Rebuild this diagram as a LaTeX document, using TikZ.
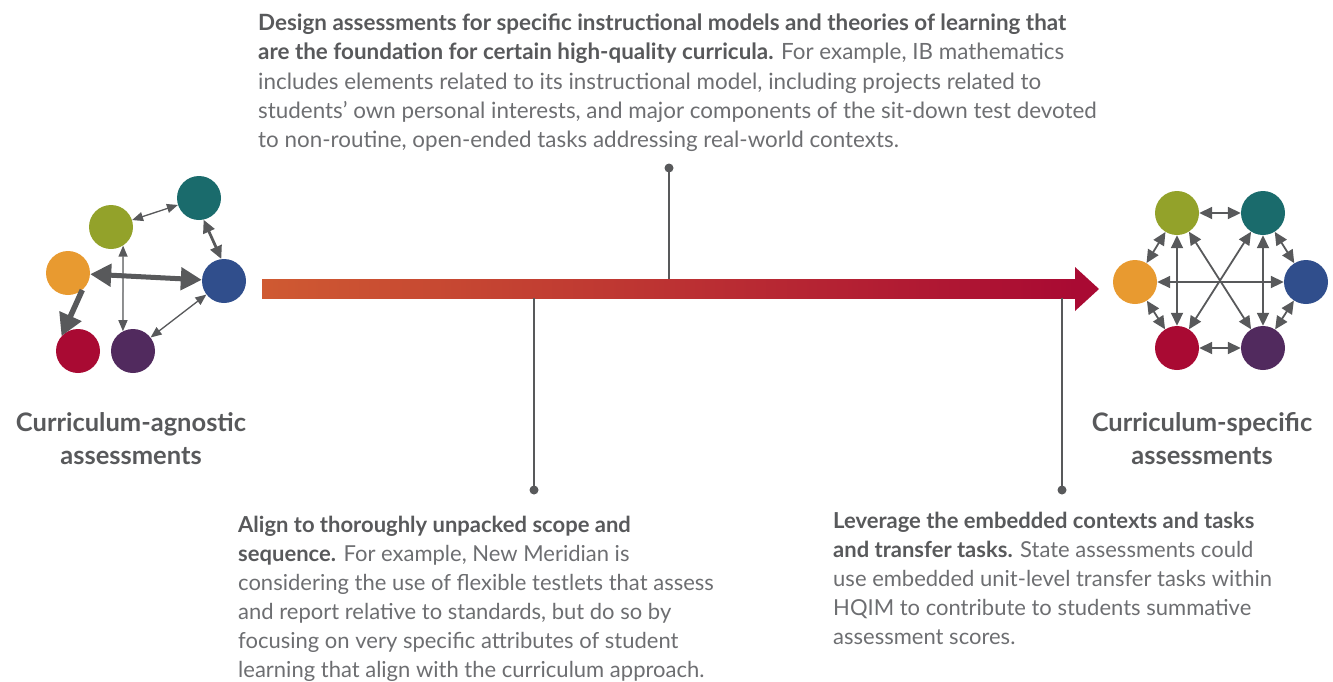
\documentclass[tikz,border=0pt]{standalone}
\usepackage{fontspec}
\setmainfont{Lato}
\usetikzlibrary{arrows.meta}
\definecolor{cOlive}{HTML}{93A22A}
\definecolor{cTeal}{HTML}{1A6B6C}
\definecolor{cOrange}{HTML}{E89A30}
\definecolor{cBlue}{HTML}{304E8C}
\definecolor{cRed}{HTML}{A90A33}
\definecolor{cPurple}{HTML}{512A5E}
\definecolor{cGray}{HTML}{58595B}
\definecolor{cText}{HTML}{58595B}
\definecolor{cLight}{HTML}{6D6E71}
\definecolor{cBarL}{HTML}{CF5A32}
\definecolor{cBarR}{HTML}{A90A33}
\tikzset{
  bub/.style={circle,minimum size=44pt,inner sep=0pt,fill=#1},
  thinarr/.style={draw=cGray,fill=cGray,line width=1.3pt,{Triangle[length=11pt,width=9pt]}-{Triangle[length=11pt,width=9pt]}},
  midarr/.style={draw=cGray,fill=cGray,line width=2.8pt,{Triangle[length=13pt,width=12pt]}-{Triangle[length=13pt,width=12pt]}},
  thickarr/.style={draw=cGray,fill=cGray,line width=5pt,{Triangle[length=21pt,width=22pt]}-{Triangle[length=21pt,width=22pt]}},
  rarr/.style={draw=cGray,fill=cGray,line width=1.8pt,{Triangle[length=13pt,width=12pt]}-{Triangle[length=13pt,width=12pt]}},
  stem/.style={draw=cGray,line width=2.4pt},
  pin/.style={circle,fill=cGray,minimum size=9pt,inner sep=0pt},
  para/.style={anchor=north west,inner sep=0pt,align=left,text=cLight,font=\fontsize{22}{29}\selectfont},
  lab/.style={align=center,text=cText,font=\bfseries\fontsize{25.5}{33}\selectfont},
}
\newcommand{\hb}[1]{{\bfseries\color{cText}#1}}
\begin{document}
\begin{tikzpicture}[x=1pt,y=-1pt]
\useasboundingbox (0,0) rectangle (1333,681);
% ---- gradient bar ----
\shade[left color=cBarL,right color=cBarR] (262,279) rectangle (1076,298);
\fill[cBarR] (1075,267) -- (1099,289) -- (1075,311) -- cycle;
\coordinate (barA) at (669,279);
\coordinate (barB) at (534,298);
\coordinate (barC) at (1062,298);
% ---- pins ----
\node[pin] (pA) at (669,168) {};
\node[pin] (pB) at (534,490) {};
\node[pin] (pC) at (1062,490) {};
\draw[stem] (pA.center) -- (barA);
\draw[stem] (pB.center) -- (barB);
\draw[stem] (pC.center) -- (barC);
% ---- left cluster ----
\node[bub=cTeal] (lt) at (199,198) {};
\node[bub=cOlive] (lo) at (111,227) {};
\node[bub=cOrange] (lr) at (68,273) {};
\node[bub=cBlue] (lb) at (224,281) {};
\node[bub=cRed] (lre) at (78,351) {};
\node[bub=cPurple] (lp) at (133,351) {};
\draw[thinarr] (lo) -- (lt);
\draw[midarr] (lt.-78) -- (lb.97);
\draw[thickarr] (lr) -- (lb);
\draw[thinarr] (lo.-57) -- (lp.117);
\draw[thinarr] (lb) -- (lp);
\draw[draw=cGray,fill=cGray,line width=5.5pt,-{Triangle[length=22pt,width=23pt]}] (lr.-50) -- (lre.138);
% ---- right cluster ----
\node[bub=cOlive] (ro) at (1177,213) {};
\node[bub=cTeal] (rt) at (1263,213) {};
\node[bub=cOrange] (rr) at (1135,282) {};
\node[bub=cBlue] (rb) at (1306,282) {};
\node[bub=cRed] (rre) at (1177,348) {};
\node[bub=cPurple] (rp) at (1263,348) {};
\draw[rarr] (ro) -- (rt);
\draw[rarr] (rt) -- (rb);
\draw[rarr] (rb) -- (rp);
\draw[rarr] (rp) -- (rre);
\draw[rarr] (rre) -- (rr);
\draw[rarr] (rr) -- (ro);
\draw[rarr] (ro) -- (rre);
\draw[rarr] (rt) -- (rp);
\draw[rarr] (rr) -- (rb);
\draw[rarr] (ro) -- (rp);
\draw[rarr] (rt) -- (rre);
% ---- labels ----
\node[lab] (labL) at (131,439) {Curriculum-agnostic\\assessments};
\node[lab] (labR) at (1202,439) {Curriculum-specific\\assessments};
% ---- paragraphs ----
\node[para,font=\fontsize{22.4}{29.1}\selectfont] (tTop) at (258,14) {%
\hb{Design assessments for specific instructional models and theories of learning that}\\
\hb{are the foundation for certain high-quality curricula.} For example, IB mathematics\\
includes elements related to its instructional model, including projects related to\\
students’ own personal interests, and major components of the sit-down test devoted\\
to non-routine, open-ended tasks addressing real-world contexts.};
\node[para] (tLeft) at (238,516) {%
\hb{Align to thoroughly unpacked scope and}\\
\hb{sequence.} For example, New Meridian is\\
considering the use of flexible testlets that assess\\
and report relative to standards, but do so by\\
focusing on very specific attributes of student\\
learning that align with the curriculum approach.};
\node[para] (tRight) at (833,512) {%
\hb{Leverage the embedded contexts and tasks}\\
\hb{and transfer tasks.} State assessments could\\
use embedded unit-level transfer tasks within\\
HQIM to contribute to students summative\\
assessment scores.};
\end{tikzpicture}
\end{document}
